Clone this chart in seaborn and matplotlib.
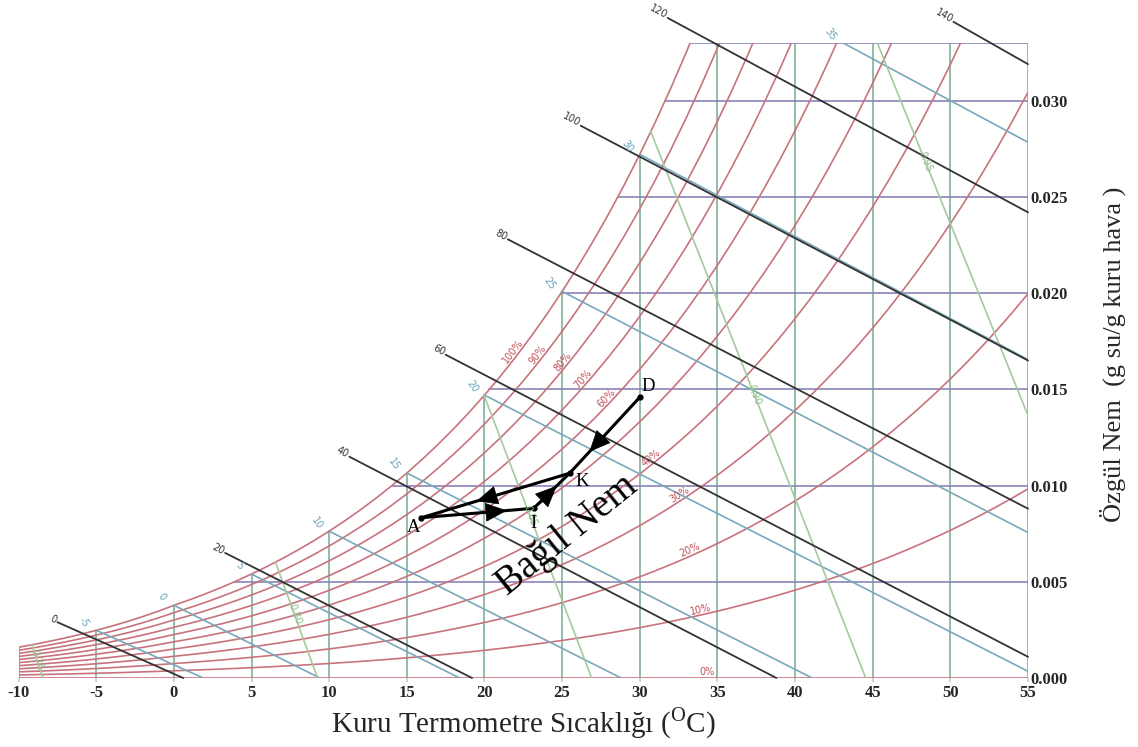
import numpy as np
import pandas as pd
import matplotlib
matplotlib.use("Agg")
import matplotlib.pyplot as plt
import seaborn as sns

# saturation vapour pressure (kPa) at each dry-bulb temperature, ice below 0 C
temps = list(range(-10, 56))
p_sat = [0.2599, 0.2839, 0.3099, 0.3381, 0.3686, 0.4017, 0.4374, 0.4760, 0.5177, 0.5627,
         0.6112, 0.6571, 0.7060, 0.7581, 0.8135, 0.8726, 0.9354, 1.0021, 1.0730, 1.1482,
         1.2282, 1.3130, 1.4028, 1.4981, 1.5990, 1.7058, 1.8188, 1.9384, 2.0647, 2.1983,
         2.3393, 2.4882, 2.6453, 2.8111, 2.9858, 3.1699, 3.3639, 3.5681, 3.7831, 4.0092,
         4.2470, 4.4969, 4.7596, 5.0354, 5.3251, 5.6290, 5.9479, 6.2823, 6.6328, 7.0002,
         7.3849, 7.7878, 8.2096, 8.6508, 9.1124, 9.5950, 10.099, 10.627, 11.177, 11.752,
         12.352, 12.978, 13.631, 14.311, 15.020, 15.759]

# relative humidity curves and their labels
rh_levels = [0, 10, 20, 30, 40, 50, 60, 70, 80, 90, 100]
rh_label_rh = [0, 10, 20, 30, 40, 60, 70, 80, 90, 100]
rh_label_T = [34.3, 34.0, 33.4, 32.75, 30.95, 28.1, 26.6, 25.3, 23.7, 22.1]

# dry bulb verticals and humidity-ratio horizontals
db_lines = list(range(-10, 56, 5))
w_lines = [0.005, 0.010, 0.015, 0.020, 0.025, 0.030, 0.033]

# enthalpy lines (kJ/kg): start and end points
h_labels = ["0", "20", "40", "60", "80", "100", "120", "140"]
h_T0 = [-7.5, 3.3, 11.3, 17.5, 21.5, 26.2, 31.8, 50.2]
h_w0 = [0.0029, 0.0065, 0.0115, 0.0168, 0.0228, 0.0287, 0.0343, 0.0341]
h_T1 = [0.6, 19.2, 38.8, 55.0, 55.0, 55.0, 55.0, 55.0]
h_w1 = [0.0, 0.0, 0.0, 0.0011, 0.0088, 0.0165, 0.0242, 0.0319]

# wet bulb lines
wb_labels = ["-5", "0", "5", "10", "15", "20", "25", "30", "35"]
wb_T0 = [-5.0, 0.0, 5.0, 10.0, 15.0, 20.0, 25.0, 30.0, 43.1]
wb_w0 = [0.00248, 0.00378, 0.00540, 0.00763, 0.01065, 0.01470, 0.02009, 0.02721, 0.033]
wb_T1 = [1.9, 9.4, 18.4, 28.8, 41.1, 55.0, 55.0, 55.0, 55.0]
wb_w1 = [0.0, 0.0, 0.0, 0.0, 0.0, 0.00035, 0.00756, 0.01655, 0.02784]

# specific volume lines
v_labels = ["0.75", "0.80", "0.85", "0.90", "0.95"]
v_T0 = [-9.15, 6.54, 19.98, 30.69, 45.3]
v_w0 = [0.00172, 0.00602, 0.01468, 0.02844, 0.033]
v_T1 = [-8.42, 9.25, 26.9, 44.55, 55.0]
v_w1 = [0.0, 0.0, 0.0, 0.0, 0.01364]
v_label_w = [0.0009, 0.0033, 0.0084, 0.0147, 0.0268]

# process path
path_names = ["A", "I", "K", "D"]
path_T = [15.94, 23.17, 25.48, 30.0]
path_w = [0.00833, 0.00882, 0.01064, 0.01459]
path_segments = [(0, 1, 0.76), (1, 2, 0.64), (3, 2, 0.72), (2, 0, 0.63)]

red = "#c8737c"
red_lab = "#c0505a"
green = "#7fb09c"
teal = "#78a8ba"
teal_lab = "#64a2b8"
blackish = "#333333"
purple = "#8a84b8"
lgreen = "#a6c9a0"
lgreen_lab = "#8cbf88"

sns.set_theme(style="white")
plt.rcParams['font.family'] = ['Liberation Serif', 'DejaVu Serif']
plt.rcParams['axes.unicode_minus'] = False
plt.rcParams['mathtext.fontset'] = 'custom'
plt.rcParams['mathtext.rm'] = 'Liberation Serif'

fig = plt.figure(figsize=(11.38, 7.47), dpi=100)
ax = fig.add_axes([18.6 / 1138, 69 / 747, 1009.4 / 1138, 635 / 747])
ax.set_xlim(-10, 55)
ax.set_ylim(0, 0.033)
for s in ax.spines.values():
    s.set_visible(False)

p = np.array(p_sat)
T = np.array(temps, dtype=float)
w_sat = 0.622 * p / (101.325 - p)

def w_rh(rh):
    pv = rh / 100 * p
    return 0.622 * pv / (101.325 - pv)

def angle(x0, y0, x1, y1):
    a = ax.transData.transform((x0, y0))
    b = ax.transData.transform((x1, y1))
    return np.degrees(np.arctan2(b[1] - a[1], b[0] - a[0]))

# dry bulb verticals
for t in db_lines:
    top = min(w_sat[temps.index(t)], 0.033)
    ax.plot([t, t], [0, top], color=green, lw=1.2)

# humidity ratio horizontals
for w in w_lines:
    t0 = np.interp(w, w_sat, T)
    ax.plot([t0, 55], [w, w], color=purple, lw=1.2)

# relative humidity curves
rows = []
for rh in rh_levels:
    for t, w in zip(temps, w_rh(rh)):
        rows.append({"T": t, "w": w, "rh": rh})
df = pd.DataFrame(rows)
sns.lineplot(data=df, x="T", y="w", units="rh", estimator=None, sort=False,
             color=red, lw=1.2, ax=ax, legend=False)

for rh, t in zip(rh_label_rh, rh_label_T):
    wc = w_rh(rh)
    w = np.interp(t, T, wc)
    ang = angle(t - 0.5, np.interp(t - 0.5, T, wc), t + 0.5, np.interp(t + 0.5, T, wc))
    r = np.radians(ang)
    ax.annotate(f"{rh}%", (t, w), xytext=(-4 * np.sin(r), 4 * np.cos(r)),
                textcoords="offset points", rotation=ang, rotation_mode="anchor",
                ha="center", va="center", color=red_lab, fontsize=7,
                family="DejaVu Sans")

# wet bulb lines
for lab, t0, w0, t1, w1 in zip(wb_labels, wb_T0, wb_w0, wb_T1, wb_w1):
    ax.plot([t0, t1], [w0, w1], color=teal, lw=1.2)
    ax.annotate(lab, (t0, w0), xytext=(-9, 6), textcoords="offset points",
                rotation=-55, ha="center", va="center", color=teal_lab,
                fontsize=7, family="DejaVu Sans")

# specific volume lines
for lab, t0, w0, t1, w1, wl in zip(v_labels, v_T0, v_w0, v_T1, v_w1, v_label_w):
    ax.plot([t0, t1], [w0, w1], color=lgreen, lw=1.2)
    tl = np.interp(wl, [w1, w0], [t1, t0])
    ang = angle(t0, w0, t1, w1)
    ax.text(tl, wl, lab, rotation=ang, rotation_mode="anchor", ha="center",
            va="center", color=lgreen_lab, fontsize=7, family="DejaVu Sans")

# enthalpy lines
for lab, t0, w0, t1, w1 in zip(h_labels, h_T0, h_w0, h_T1, h_w1):
    ax.plot([t0, t1], [w0, w1], color=blackish, lw=1.3, clip_on=False)
    ang = angle(t0, w0, t1, w1)
    ax.annotate(lab, (t0, w0), xytext=(-1, 1), textcoords="offset points",
                rotation=ang, rotation_mode="anchor", ha="right", va="center",
                color="#333333", fontsize=7, family="DejaVu Sans",
                annotation_clip=False)

# process path A-I-K-D
for i0, i1, frac in path_segments:
    x0, y0, x1, y1 = path_T[i0], path_w[i0], path_T[i1], path_w[i1]
    ax.plot([x0, x1], [y0, y1], color="black", lw=2.2, solid_capstyle="round")
    tip = (x0 + frac * (x1 - x0), y0 + frac * (y1 - y0))
    tail = (x0 + (frac - 0.03) * (x1 - x0), y0 + (frac - 0.03) * (y1 - y0))
    ax.annotate("", xy=tip, xytext=tail,
                arrowprops=dict(arrowstyle="-|>,head_length=0.9,head_width=0.4",
                                color="black", lw=0.5, shrinkA=0, shrinkB=0,
                                mutation_scale=16))
ax.plot(path_T, path_w, "o", color="black", ms=3.5)
name_offsets = [(-6, -7), (0, -11), (9, -6), (6, 8)]
for name, t, w, off in zip(path_names, path_T, path_w, name_offsets):
    ax.annotate(name, (t, w), xytext=off, textcoords="offset points",
                ha="center", va="center", fontsize=13.5, color="black")

ax.text(25.3, 0.0074, "Bağıl Nem", rotation=39, rotation_mode="anchor",
        ha="center", va="center", fontsize=28, color="black")

# axes ticks and labels
ax.set_xticks(db_lines)
ax.set_xticklabels([str(t) for t in db_lines], fontweight="bold", fontsize=12)
ax.yaxis.tick_right()
ax.set_yticks([0, 0.005, 0.010, 0.015, 0.020, 0.025, 0.030])
ax.set_yticklabels([f"{v:.3f}" for v in ax.get_yticks()], fontweight="bold",
                   fontsize=12)
ax.tick_params(axis="x", bottom=True, length=3, color="#cccccc", pad=2)
ax.tick_params(axis="y", right=True, length=0, pad=2)
ax.set_xlabel("Kuru Termometre Sıcaklığı ($^{\\rm O}$C)", fontsize=21, labelpad=3)
ax.yaxis.set_label_position("right")
ax.set_ylabel("Özgül Nem  (g su/g kuru hava )", fontsize=19)
ax.yaxis.set_label_coords(1.071, 0.51)
ax.grid(False)

fig.savefig("out.png", dpi=100, facecolor="white")
